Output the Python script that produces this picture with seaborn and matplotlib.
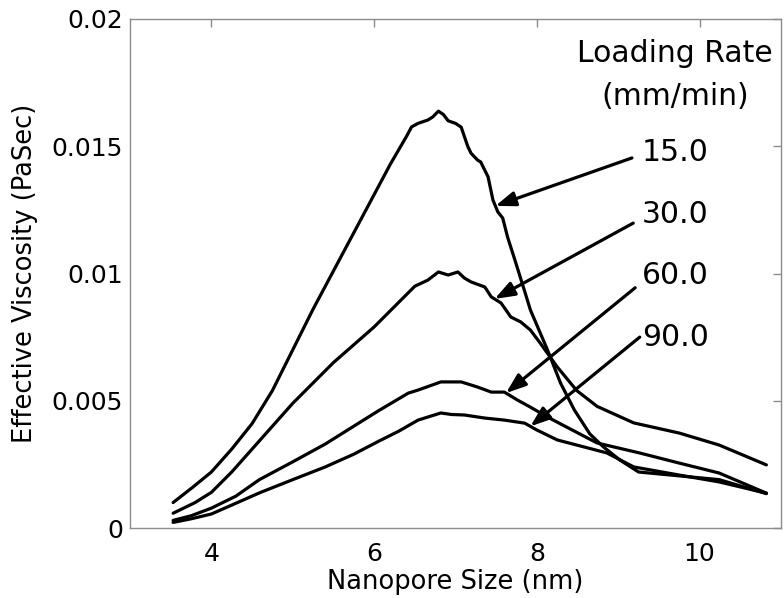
import matplotlib
matplotlib.use("Agg")
import matplotlib.pyplot as plt
import seaborn as sns
import pandas as pd
import numpy as np

# ---- data ----
x_15 = [3.53, 3.77, 4.00, 4.25, 4.50, 4.75, 5.00, 5.25, 5.50, 5.75, 6.00, 6.20, 6.40, 6.46,
        6.54, 6.66, 6.72, 6.79, 6.85, 6.91, 7.00, 7.07, 7.15, 7.19, 7.27, 7.31, 7.40, 7.46,
        7.52, 7.58, 7.64, 7.73, 7.85, 7.92, 8.13, 8.29, 8.46, 8.65, 8.82, 9.02, 9.25, 10.24,
        10.82]
y_15 = [0.00100, 0.00160, 0.00220, 0.00310, 0.00410, 0.00540, 0.00700, 0.00860, 0.01010,
        0.01160, 0.01310, 0.01430, 0.01540, 0.01576, 0.01590, 0.01603, 0.01615, 0.01638,
        0.01625, 0.01600, 0.01590, 0.01575, 0.01500, 0.01473, 0.01446, 0.01438, 0.01380,
        0.01289, 0.01242, 0.01218, 0.01143, 0.01053, 0.00930, 0.00857, 0.00700, 0.00570,
        0.00464, 0.00370, 0.00318, 0.00267, 0.00220, 0.00190, 0.00135]

x_30 = [3.53, 3.80, 4.00, 4.25, 4.50, 4.75, 5.00, 5.25, 5.50, 5.75, 6.00, 6.25, 6.50, 6.66,
        6.79, 6.91, 7.03, 7.11, 7.19, 7.36, 7.44, 7.56, 7.68, 7.80, 7.92, 8.04, 8.25, 8.49,
        8.74, 9.19, 9.75, 10.24, 10.82]
y_30 = [0.00058, 0.00100, 0.00140, 0.00220, 0.00310, 0.00400, 0.00490, 0.00570, 0.00650,
        0.00720, 0.00790, 0.00870, 0.00950, 0.00974, 0.01006, 0.00994, 0.01006, 0.00982,
        0.00967, 0.00947, 0.00908, 0.00884, 0.00829, 0.00810, 0.00778, 0.00727, 0.00633,
        0.00540, 0.00478, 0.00413, 0.00373, 0.00326, 0.00248]

x_60 = [3.53, 3.75, 4.00, 4.30, 4.59, 5.00, 5.40, 5.75, 6.05, 6.42, 6.54, 6.82, 7.07, 7.27,
        7.44, 7.60, 7.76, 7.92, 8.13, 8.74, 9.26, 9.75, 10.24, 10.82]
y_60 = [0.00030, 0.00048, 0.00078, 0.00125, 0.00190, 0.00260, 0.00330, 0.00400, 0.00460,
        0.00530, 0.00542, 0.00574, 0.00574, 0.00554, 0.00534, 0.00534, 0.00503, 0.00475,
        0.00436, 0.00334, 0.00295, 0.00255, 0.00216, 0.00137]

x_90 = [3.53, 3.75, 4.00, 4.25, 4.59, 5.00, 5.40, 5.75, 6.05, 6.30, 6.54, 6.82, 6.95, 7.11,
        7.36, 7.60, 7.85, 8.00, 8.25, 8.86, 9.19, 9.75, 10.24, 10.82]
y_90 = [0.00022, 0.00036, 0.00055, 0.00090, 0.00138, 0.00190, 0.00240, 0.00290, 0.00340,
        0.00380, 0.00424, 0.00452, 0.00446, 0.00444, 0.00432, 0.00424, 0.00412, 0.00385,
        0.00346, 0.00295, 0.00240, 0.00208, 0.00181, 0.00137]

rate_labels = ["15.0", "30.0", "60.0", "90.0"]
# arrow target x positions on each curve (nm)
arrow_x = [7.49, 7.48, 7.62, 7.92]

x_ticks = [4, 6, 8, 10]
y_ticks = [0, 0.005, 0.01, 0.015, 0.02]
y_tick_labels = ["0", "0.005", "0.01", "0.015", "0.02"]

# ---- build table ----
frames = []
for lab, xs, ys in zip(rate_labels, [x_15, x_30, x_60, x_90], [y_15, y_30, y_60, y_90]):
    frames.append(pd.DataFrame({"size": xs, "visc": ys, "rate": lab}))
df = pd.concat(frames, ignore_index=True)

sns.set_style("white")
plt.rcParams["font.family"] = ["DejaVu Sans"]
plt.rcParams["text.color"] = "black"
plt.rcParams["axes.labelcolor"] = "black"
plt.rcParams["xtick.color"] = "black"
plt.rcParams["ytick.color"] = "black"

fig = plt.figure(figsize=(7.84, 5.98), dpi=100)
ax = fig.add_axes([130 / 784, (598 - 528) / 598, 651 / 784, 509 / 598])

sns.lineplot(data=df, x="size", y="visc", hue="rate", units="rate", estimator=None,
             sort=False, palette=["black"] * 4, linewidth=2.3, legend=False, ax=ax)

ax.set_xlim(3, 11)
ax.set_ylim(0, 0.02)
ax.set_xticks(x_ticks)
ax.set_xticklabels([str(t) for t in x_ticks])
ax.set_yticks(y_ticks)
ax.set_yticklabels(y_tick_labels)

for s in ax.spines.values():
    s.set_visible(True)
    s.set_color("#8c8c8c")
    s.set_linewidth(1.0)

ax.tick_params(axis="both", direction="in", length=6, width=1, color="#8c8c8c",
               labelsize=18, labelcolor="black", top=True, right=True)
ax.tick_params(axis="x", pad=10)
ax.tick_params(axis="y", pad=5)

ax.set_xlabel("Nanopore Size (nm)", fontsize=18.5, labelpad=2, color="black")
ax.set_ylabel("Effective Viscosity (PaSec)", fontsize=18.5, labelpad=10, color="black")

# ---- annotations ----
ax.text(0.837, 0.933, "Loading Rate", transform=ax.transAxes, ha="center", va="center",
        fontsize=21.5, color="black")
ax.text(0.837, 0.847, "(mm/min)", transform=ax.transAxes, ha="center", va="center",
        fontsize=21.5, color="black")

label_y = [0.737, 0.615, 0.497, 0.375]
tail_xy = [(0.771, 0.727), (0.773, 0.599), (0.776, 0.472), (0.783, 0.375)]
series_xy = [(x_15, y_15), (x_30, y_30), (x_60, y_60), (x_90, y_90)]

for lab, ly, tail, ax_x, (xs, ys) in zip(rate_labels, label_y, tail_xy, arrow_x, series_xy):
    ax.text(0.786, ly, lab, transform=ax.transAxes, ha="left", va="center", fontsize=21.5,
            color="black")
    yv = float(np.interp(ax_x, xs, ys))
    ax.annotate("", xy=(ax_x, yv), xycoords="data", xytext=tail, textcoords="axes fraction",
                arrowprops=dict(arrowstyle="-|>,head_length=0.6,head_width=0.22",
                                mutation_scale=20, lw=2.3, color="black",
                                shrinkA=0, shrinkB=0))

fig.savefig("out.png", dpi=100)
